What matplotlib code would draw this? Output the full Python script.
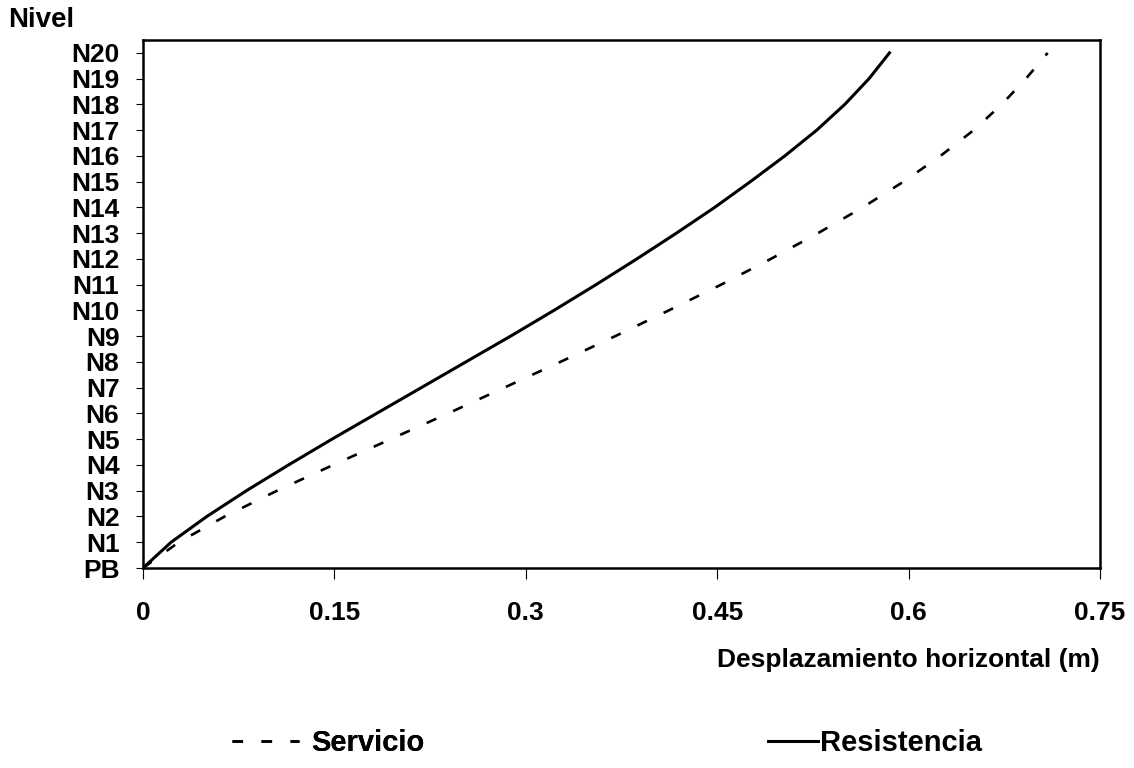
import matplotlib
matplotlib.use('Agg')
import matplotlib.pyplot as plt
from matplotlib.lines import Line2D

# niveles del edificio
niveles = ['PB'] + ['N%d' % i for i in range(1, 21)]

# desplazamiento horizontal (m) por nivel
servicio = [0.000, 0.028, 0.064, 0.105, 0.149, 0.194, 0.239, 0.283, 0.327,
            0.370, 0.412, 0.453, 0.492, 0.529, 0.564, 0.596, 0.625, 0.651,
            0.673, 0.692, 0.709]
resistencia = [0.000, 0.022, 0.050, 0.081, 0.114, 0.148, 0.183, 0.218, 0.253,
               0.288, 0.322, 0.355, 0.387, 0.418, 0.448, 0.476, 0.503, 0.528,
               0.550, 0.569, 0.585]

xticks = [0, 0.15, 0.3, 0.45, 0.6, 0.75]
xticklabels = ['0', '0.15', '0.3', '0.45', '0.6', '0.75']


def main():
    plt.rcParams['font.family'] = ['Liberation Sans', 'DejaVu Sans']
    fs = 19

    fig = plt.figure(figsize=(11.34, 7.68), dpi=100)
    ax = fig.add_axes([143/1134, 1-568/768, (1100-143)/1134, (568-40)/768])

    y = list(range(len(niveles)))
    ax.plot(servicio, y, color='black', linewidth=1.9, linestyle=(0, (4, 7)))
    ax.plot(resistencia, y, color='black', linewidth=2.2)

    ax.set_xlim(0, 0.75)
    ax.set_ylim(0, 20.5)
    ax.set_xticks(xticks)
    ax.set_xticklabels(xticklabels, fontsize=fs, fontweight='bold')
    ax.set_yticks(y)
    ax.set_yticklabels(niveles, fontsize=fs, fontweight='bold')
    ax.tick_params(axis='y', direction='out', length=5, width=0.8, pad=12)
    ax.tick_params(axis='x', direction='out', length=8, width=0.8, pad=16)
    for s in ax.spines.values():
        s.set_linewidth(1.8)

    fig.text(8/1134, 1-20/768, 'Nivel', fontsize=20, fontweight='bold',
             ha='left', va='center')
    fig.text(1100/1134, 1-660/768, 'Desplazamiento horizontal (m)',
             fontsize=fs, fontweight='bold', ha='right', va='center')

    # leyenda: dos entradas separadas
    lfs = 21
    h1 = Line2D([], [], color='black', linewidth=1.9, linestyle=(0, (4, 7)))
    h2 = Line2D([], [], color='black', linewidth=2.2)
    leg1 = fig.legend([h1], ['Servicio'], loc='center left',
                      bbox_to_anchor=(232/1134, 1-743/768), frameon=False,
                      prop={'size': lfs, 'weight': 'bold'}, handlelength=2.3,
                      handletextpad=0.4, borderpad=0, borderaxespad=0)
    fig.add_artist(leg1)
    fig.legend([h2], ['Resistencia'], loc='center left',
               bbox_to_anchor=(768/1134, 1-743/768), frameon=False,
               prop={'size': lfs, 'weight': 'bold'}, handlelength=1.7,
               handletextpad=0.1, borderpad=0, borderaxespad=0)

    fig.savefig('out.png', dpi=100)


if __name__ == '__main__':
    main()
